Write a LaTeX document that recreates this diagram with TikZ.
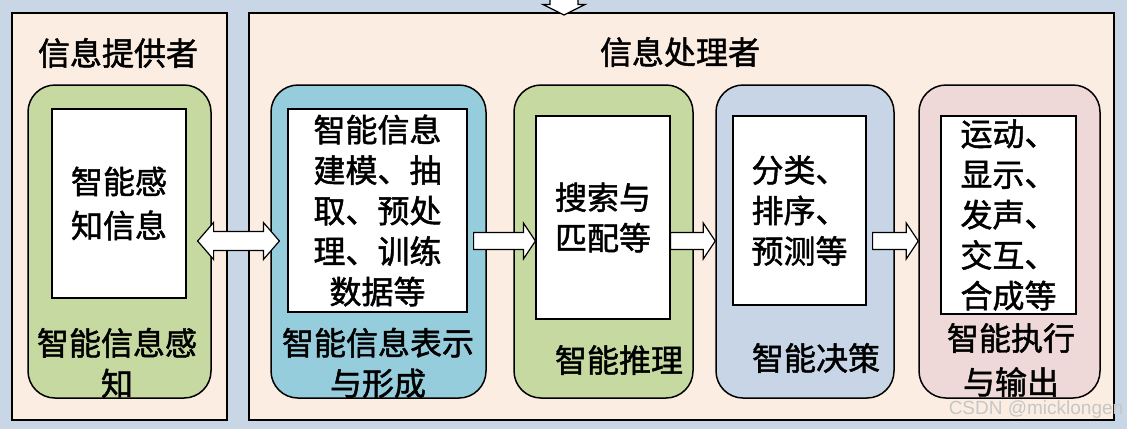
\documentclass[tikz,border=0pt]{standalone}
\usepackage{fontspec}
\newfontfamily\cjk{Noto Sans CJK SC}[FakeBold=1.5]
\newfontfamily\wmfont{Liberation Sans}
\usetikzlibrary{calc}
\definecolor{bgblue}{HTML}{C9D6E6}
\definecolor{peach}{HTML}{FCEDE2}
\definecolor{leaf}{HTML}{C6D9A0}
\definecolor{aqua}{HTML}{96CDDC}
\definecolor{steel}{HTML}{C7D5E6}
\definecolor{rose}{HTML}{EED9D8}
\tikzset{
  panel/.style={draw, line width=1.2pt, fill=peach},
  module/.style={draw, line width=1.5pt, rounded corners=27pt, minimum height=313pt},
  inbox/.style={draw, line width=1.2pt, fill=white},
  txt/.style={font=\cjk\fontsize{32}{40.5}\selectfont, align=center, inner sep=0pt},
  blockarr/.style={draw, fill=white, line width=1.2pt, line join=miter},
}
% block arrow, tail #1 to tip #2, at the height of (mid)
\newcommand\sarrow[2]{%
  \draw[blockarr] let \p1=(#1), \p2=(#2), \p3=(mid) in
    (\x1,\y3+8.5pt) -- (\x2-12pt,\y3+8.5pt) -- (\x2-12pt,\y3+18pt) -- (\x2,\y3)
    -- (\x2-12pt,\y3-18pt) -- (\x2-12pt,\y3-8.5pt) -- (\x1,\y3-8.5pt) -- cycle;}
\newcommand\darrow[2]{%
  \draw[blockarr] let \p1=(#1), \p2=(#2), \p3=(mid) in
    (\x1,\y3) -- (\x1+16pt,\y3+18.5pt) -- (\x1+16pt,\y3+9.5pt) -- (\x2-16pt,\y3+9.5pt)
    -- (\x2-16pt,\y3+18.5pt) -- (\x2,\y3) -- (\x2-16pt,\y3-18.5pt) -- (\x2-16pt,\y3-9.5pt)
    -- (\x1+16pt,\y3-9.5pt) -- (\x1+16pt,\y3-18.5pt) -- cycle;}
\begin{document}
\begin{tikzpicture}[x=1pt, y=-1pt]
  \fill[bgblue] (0,0) rectangle (1127,429);
  \useasboundingbox (0,0) rectangle (1127,429);
  % two panels
  \draw[panel] (12,13) rectangle (227,420);
  \draw[panel] (249,13) rectangle (1114,420);
  \fill[white] (550,0) -- (550,4.5) -- (543,4.5) -- (564,15) -- (585,4.5) -- (578,4.5) -- (578,0) -- cycle;
  \draw[line width=1.2pt, line join=miter] (550,0) -- (550,4.5) -- (543,4.5) -- (564,15) -- (585,4.5) -- (578,4.5) -- (578,0);
  \node[txt] (provider) at (118,53) {信息提供者};
  \node[txt] (processor) at (680,52) {信息处理者};
  \coordinate (mid) at (0,241);
  % modules
  \node[module, fill=leaf, minimum width=183pt] (m1) at (119.5,241.5) {};
  \node[module, fill=aqua, minimum width=215pt] (m2) at (378.5,241.5) {};
  \node[module, fill=leaf, minimum width=179pt] (m3) at (603.5,241.5) {};
  \node[module, fill=steel, minimum width=178pt] (m4) at (805,241.5) {};
  \node[module, fill=rose, minimum width=181pt] (m5) at (1009.5,241.5) {};
  % inner boxes
  \node[inbox, minimum width=134pt, minimum height=189pt] (in1) at (119,203.5) {};
  \node[inbox, minimum width=179pt, minimum height=203pt] (in2) at (377.5,210.5) {};
  \node[inbox, minimum width=134pt, minimum height=203pt] (in3) at (603,217.5) {};
  \node[inbox, minimum width=133pt, minimum height=189pt] (in4) at (799.5,210.5) {};
  \node[inbox, minimum width=135pt, minimum height=198pt] (in5) at (1008.5,215) {};
  \node[txt, font=\cjk\fontsize{32}{44}\selectfont] (t1) at (in1) {智能感\\知信息};
  \node[txt] (t2) at (in2) {智能信息\\建模、抽\\取、预处\\理、训练\\数据等};
  \node[txt] (t3) at (in3) {搜索与\\匹配等};
  \node[txt] (t4) at (in4) {分类、\\排序、\\预测等};
  \node[txt] (t5) at (in5) {运动、\\显示、\\发声、\\交互、\\合成等};
  % module names
  \node[txt] (l1) at (117,363) {智能信息感\\知};
  \node[txt] (l2) at (378,363) {智能信息表示\\与形成};
  \node[txt] (l3) at (619,360) {智能推理};
  \node[txt] (l4) at (816,358) {智能决策};
  \node[txt, font=\cjk\fontsize{32}{44}\selectfont] (l5) at (1011,360) {智能执行\\与输出};
  % arrows
  \darrow{[xshift=11pt]in1.east}{[xshift=-8pt]in2.west}
  \sarrow{[xshift=6pt]in2.east}{in3.west}
  \sarrow{in3.east}{m4.west}
  \sarrow{[xshift=6pt]in4.east}{m5.west}
  \node[font=\wmfont\fontsize{19}{19}\selectfont, text=gray!45] (wm) at (1036,410) {CSDN @micklongen};
\end{tikzpicture}
\end{document}
